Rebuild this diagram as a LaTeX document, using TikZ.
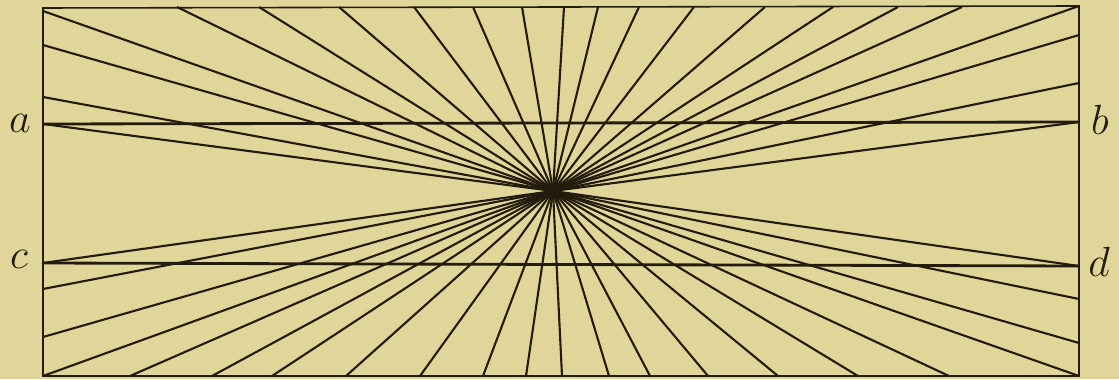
\documentclass[tikz,border=0pt]{standalone}
\usetikzlibrary{calc}
\definecolor{paper}{RGB}{224,214,153}
\definecolor{ink}{RGB}{35,28,12}

\begin{document}
\begin{tikzpicture}[x=0.01cm,y=-0.01cm]

\tikzset{frame/.style = {draw=ink, line width=0.45pt}}
\tikzset{ray/.style = {ink, line width=0.6pt}}
\tikzset{parallel/.style = {ink, line width=0.8pt}}
\tikzset{letter/.style = {ink, anchor=base, inner sep=0pt, font=\fontsize{13}{13}\selectfont}}

\fill[paper] (0,0) rectangle (1119,379);
\useasboundingbox (0,0) rectangle (1119,379);

% corners, centre and ends of the parallels
\coordinate (tl) at (43,8);
\coordinate (tr) at (1079,6);
\coordinate (bl) at (43,376);
\coordinate (br) at (1079,376);
\coordinate (o) at (553,191);
\coordinate (a) at (43,124);
\coordinate (b) at (1079,122);
\coordinate (c) at (43,263);
\coordinate (d) at (1079,266);

% rays, upper half
\foreach \x [count=\i] in {177,259,339,414,473,522,564,598,639,694,765,833,898,962}
  {\coordinate (t\i) at (\x,7); \draw[ray] (o) -- (t\i);}
\foreach \y [count=\i] in {11,45,97}
  {\coordinate (l\i) at (43,\y); \draw[ray] (o) -- (l\i);}
\foreach \y [count=\i] in {35,83}
  {\coordinate (r\i) at (1079,\y); \draw[ray] (o) -- (r\i);}
\draw[ray] (o) -- (tr);
\draw[ray] (o) -- (a);
\draw[ray] (o) -- (b);

% rays, lower half
\foreach \x [count=\i] in {130,212,272,346,420,483,526,562,609,650,708,778,858,949}
  {\coordinate (u\i) at (\x,376); \draw[ray] (o) -- (u\i);}
\foreach \y [count=\i] in {289,337}
  {\coordinate (m\i) at (43,\y); \draw[ray] (o) -- (m\i);}
\foreach \y [count=\i] in {299,343}
  {\coordinate (n\i) at (1079,\y); \draw[ray] (o) -- (n\i);}
\draw[ray] (o) -- (bl);
\draw[ray] (o) -- (br);
\draw[ray] (o) -- (c);
\draw[ray] (o) -- (d);

% parallels
\draw[parallel] (a) -- (b);
\draw[parallel] (c) -- (d);

% rectangle
\draw[frame] (tl) -- (tr) -- (br) -- (bl) -- cycle;

% letters
\node[letter] (la) at (20,133) {$a$};
\node[letter] (lb) at (1100,134) {$b$};
\node[letter] (lc) at (19,268) {$c$};
\node[letter] (ld) at (1099,276) {$d$};

\end{tikzpicture}
\end{document}
